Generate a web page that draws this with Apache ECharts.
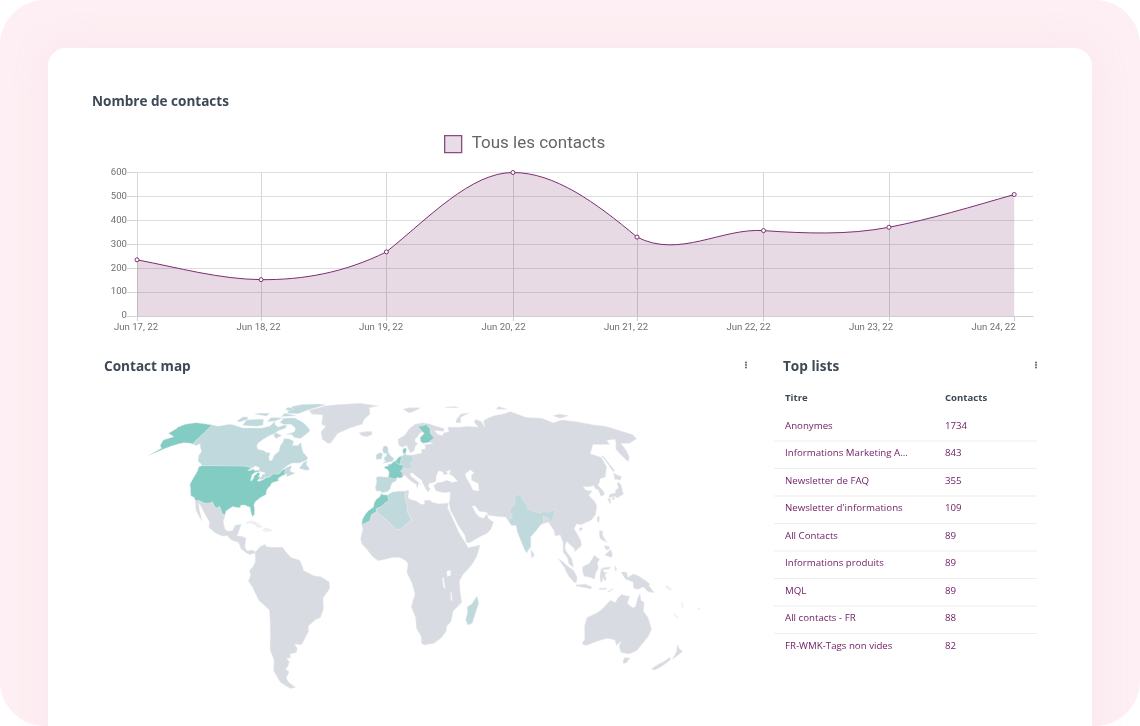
<!DOCTYPE html>
<html><head><meta charset="utf-8">
<script src="https://cdn.jsdelivr.net/npm/echarts@6/dist/echarts.min.js"></script>
<style>
html,body{margin:0;padding:0;background:#fff;width:1140px;height:726px;overflow:hidden}
#outer{position:absolute;left:0;top:0;width:1140px;height:726px;background:#fdeff3;border-radius:45px}
#card{position:absolute;left:48px;top:48px;width:1044px;height:720px;background:#fff;border-radius:18px;box-shadow:0 0 40px rgba(240,170,195,.12)}
#chart{position:absolute;left:0;top:0;width:1140px;height:726px}
</style></head><body>
<div id="outer"></div><div id="card"></div><div id="chart"></div>
<script>
const dates = ['Jun 17, 22','Jun 18, 22','Jun 19, 22','Jun 20, 22','Jun 21, 22','Jun 22, 22','Jun 23, 22','Jun 24, 22'];
const dayIndex = [0,0.99,1.99,3,3.99,5,6,7];
const contacts = [235,152,268,600,330,357,371,508];
/* curve slope read at each point, contacts per day, arriving and leaving */
const slopeIn = [-100,-5,260,0,-440,-35,100,150];
const slopeOut = [-100,-5,420,0,-270,-35,100,150];
const yTicks = [0,100,200,300,400,500,600];
const listTitles = ['Anonymes','Informations Marketing A…','Newsletter de FAQ',"Newsletter d'informations",'All Contacts','Informations produits','MQL','All contacts - FR','FR-WMK-Tags non vides'];
const listCounts = [1734,843,355,109,89,89,89,88,82];
const tableHead = ['Titre','Contacts'];
const highContacts = ['USA','Alaska','France','Benelux','Denmark','Finland','Morocco'];
const lowContacts = ['Canada','Baffin','Victoria','Banks','Ellesmere','Devon','Melville','Axel','Somerset','Southampton','Newfoundland','Spain','Germany','UK','Ireland','Algeria','India','Madagascar'];
const lakes = ['Caspian','Victoria Lake','Tanganyika','Malawi'];
const faint = ['Cuba','Hispaniola','Solomon','New Caledonia','Fiji','Vanuatu'];

/* country outlines, lon/lat */
const shapes = {
 'Eurasia':[[-9,37],[-9.5,38.7],[-8.8,41],[-9.2,43.2],[-8,43.7],[-2,43.4],[-1.3,44.5],[-1.2,46],[-2.5,47.3],[-4.7,48],[-3,48.8],[-1.5,48.7],[-1.7,49.7],[0,49.5],[1.6,50.8],[3.5,51.4],[5,53],[7,53.6],[8.8,54],[8.2,55.5],[8.2,57],[10.5,57.7],[10.5,56.2],[9.8,55],[11,54],[14,54],[18.5,54.7],[21,55],[21,57],[23.5,57],[24.3,58.3],[23.5,59.2],[28,59.6],[30,60],[27,60.5],[23,60],[21.3,61],[21.5,63],[25,65],[24,65.8],[22,65.5],[21,64.5],[17.5,62],[17.2,60.7],[19,59.8],[16.7,58],[16.3,56.5],[14.3,55.5],[13,55.4],[11,59],[8,58],[5.5,59],[5,62],[10,64],[14,67.5],[19,70],[25,71],[31,70.2],[33,69.5],[41,67.7],[40,66.2],[35,66.5],[33,66.7],[35,64.5],[38,64],[40,65.5],[44,66],[44,68.5],[54,68.5],[60,69],[68,68.5],[67,71.5],[70,73],[73,71.5],[73,68],[75,72],[80,73.5],[87,75],[98,76.3],[105,77.7],[113,74],[125,73.5],[130,71],[140,72.5],[150,71.5],[160,69.7],[168,69],[176,66],[180,64.5],[179,62.3],[170,60],[163.5,59.8],[163,58],[162,56],[160,53],[156.5,50.8],[155.7,54],[156,57],[161,60.5],[163,62],[156,61.5],[155,59.3],[143,59.3],[135.5,54.7],[141,53],[140,48.5],[135,43.5],[131,42.7],[129.5,41],[127.5,39.8],[129.4,37],[129,35.2],[126.5,34.5],[126.5,37.5],[125,38],[125,39.5],[121.5,39],[118,39],[119,37.3],[122.5,37],[119.5,35],[121.7,32],[122,30],[120,26],[117,23.5],[113.5,22.3],[110.5,21.2],[108,21.7],[106,19.5],[109,14],[109,11.5],[105,8.7],[105,10],[102.5,12],[100.8,13.5],[99.5,11],[100,9],[103,5.5],[104,1.4],[101.5,2.8],[100.5,6],[98.3,8.5],[98.7,13],[97.5,16.5],[94.5,16],[94.2,18.5],[91.5,22.5],[90,22],[87,21.3],[85,19.5],[80.3,15.5],[80,11],[78,9],[77.5,8],[76,10.5],[73,18],[72.7,21],[70,21],[69,22.3],[67,24.8],[62,25.1],[57,25.7],[56.5,27],[52,27.5],[50,30],[48,30],[50,26.5],[51.5,25],[54,24.2],[56.2,26.2],[57,24],[59.7,22.5],[57.7,19],[55,17],[52,16],[45,12.8],[43.3,13],[42.5,16.5],[39,21],[36.8,25],[35,28],[34.6,31.3],[35.5,33.5],[36,36.5],[32,36.2],[30,36.5],[27.5,37],[26.3,39.5],[29,41],[31.5,41.2],[35,42],[38,41],[41.5,41.5],[39,44],[37,45],[38.5,47],[35,46],[36.5,45.2],[33.5,44.5],[33,46],[30.5,46.5],[28.5,44],[28,41.5],[26,40.8],[23.5,40.5],[23,39],[24,38],[22.8,36.5],[21.5,37.5],[19.5,41],[19.3,42],[15,44.5],[13.7,45.5],[12.3,45.4],[12.5,44],[16,41.8],[18.4,40],[17,40.5],[16,38],[15.7,40],[12.5,41.5],[10.5,43],[8.8,44.4],[6,43.1],[3.5,43.3],[3.2,41.8],[0.5,40.7],[-0.3,39],[-0.5,38],[-2,36.8],[-5.3,36.1],[-6.5,37]],
 'Africa':[[8.6,36.9],[10,37.3],[11,37],[10.2,34.3],[11,33.2],[15,32.3],[18,30.7],[20,31],[20,32.7],[23,32.6],[25,31.6],[29,30.9],[32,31.2],[34.2,31.3],[33.4,29],[34.6,27],[36,24],[37.6,21],[39,18],[41,15],[43.3,12],[44,10.5],[51,11.8],[49,6.5],[46,2.5],[41,-2],[39,-5],[39.5,-10],[40.7,-15],[36,-19],[35,-24],[32.8,-26],[32.5,-28.5],[30,-31.5],[26,-34],[20,-34.8],[18.3,-34],[18,-31],[15,-27],[14.3,-22],[11.7,-17],[13.7,-11],[12,-6],[9,-1],[9.7,3],[8.5,4.5],[5,6],[1,6],[-4,5],[-7.5,4.4],[-11,6.8],[-13.5,9.5],[-16.7,12.3],[-17.5,14.7],[-16.3,19],[-17,21.2],[-13,23],[-12,26],[-8.7,27.3],[-4.8,25],[1.2,20.7],[3.3,19],[5.8,19.4],[12,23.5],[9.8,27],[9.5,30.2],[8.3,34.5]],
 'Greenland':[[-73,78.3],[-68,76],[-58,75.5],[-55,70],[-51,69],[-53,66],[-50,62],[-45,60],[-43,60],[-40,65],[-32,68],[-23,70],[-22,73],[-18,76],[-20,80],[-12,81.5],[-30,83.6],[-50,82.5],[-62,81.5],[-68,79.5]],
 'Iceland':[[-24,65.5],[-22,64],[-18,63.4],[-14,64.5],[-15,66.3],[-20,66]],
 'Mexico':[[-117.1,32.5],[-114.8,32.5],[-111,31.3],[-108.2,31.3],[-106.5,31.8],[-104.5,29.7],[-103,29],[-101.5,29.8],[-100.5,28.5],[-99.2,26.4],[-97.2,25.9],[-97.7,22.5],[-96,19],[-94,18.2],[-91.5,18.5],[-90.5,21],[-87,21.5],[-88,18],[-88.7,16],[-86,15.9],[-83.3,15],[-83.7,11],[-82.3,9],[-79.5,9.5],[-77.3,8.7],[-77.5,7.3],[-78.3,8],[-80.5,7.3],[-83,8.3],[-85.7,10],[-87.5,13],[-91.5,14],[-94.5,16.2],[-97,15.9],[-101.5,17.5],[-105.5,20],[-105.7,22.5],[-109,26],[-112.7,30],[-114.7,31.5],[-113,28],[-110,23],[-112,24.8],[-115,28]],
 'South America':[[-77.5,7.3],[-77.3,8.7],[-75,11],[-72,12.2],[-71.3,11],[-68,10.7],[-62,10.7],[-60,8.5],[-57,6],[-52,4.7],[-50,1],[-50,0],[-44,-2.5],[-40,-3],[-35.2,-5.5],[-35,-8.5],[-39,-13],[-39,-18],[-41,-22],[-44,-23],[-48.5,-26],[-48.7,-28.5],[-52,-32.5],[-54,-34.7],[-58,-34.3],[-57,-36.5],[-58,-38.3],[-62,-39],[-62.2,-40.8],[-65,-41],[-63.7,-42.5],[-65.5,-45],[-67.5,-46],[-65.8,-47.5],[-69,-50.5],[-68.3,-52.5],[-65,-55],[-69,-55.5],[-74,-52.5],[-75.5,-47],[-73,-42],[-73.7,-37],[-71.5,-30],[-70.5,-23],[-70.3,-18.5],[-76,-14],[-79,-8],[-81.3,-5],[-80,-2.5],[-80.5,0],[-78.8,1.5],[-77.3,4]],
 'Australia':[[114,-22],[113.5,-26],[115.7,-32],[115,-34.3],[118,-35],[124,-33],[129,-31.7],[134,-32.5],[136,-35],[138,-33],[138,-35.5],[141,-38.3],[146.3,-39],[150,-37.5],[153,-31],[153.5,-27.5],[149.5,-22],[146,-19],[145.5,-15],[143.5,-14],[142.5,-10.8],[141.5,-13],[141,-17],[139.5,-17.5],[136,-15.5],[136.8,-12.2],[132,-11.3],[130,-13],[129,-15],[126,-14],[122,-18],[119,-20]],
 'Tasmania':[[144.7,-40.7],[148.3,-40.9],[148,-43],[146.5,-43.6],[145.3,-42.5]],
 'NZ North':[[172.7,-34.5],[175.5,-36.7],[178.3,-37.7],[177,-39.5],[175.3,-41.6],[174.8,-39.8],[174.7,-38]],
 'NZ South':[[172.7,-40.6],[174.3,-41.7],[172.8,-43.7],[171,-45.5],[169,-46.7],[166.5,-46],[168.5,-44],[171,-42.5]],
 'Honshu':[[130.9,34],[132.5,35.5],[136,36],[137,37.3],[139.5,38.5],[140,40.5],[141.4,41.3],[142,39.5],[141,37],[140.7,35.5],[138.5,34.7],[136,33.7],[135,34.5],[132.5,34]],
 'Kyushu':[[130,33.5],[131.7,33.5],[131,31.3],[130.3,31.3]],
 'Shikoku':[[132.5,33.5],[134.5,34.2],[134.2,33.3],[133,32.8]],
 'Hokkaido':[[140,42],[141.5,45.4],[145.3,43.5],[143,42],[141,42.5]],
 'Sakhalin':[[142,46],[143.5,46.5],[143,50],[143,54],[142,53.5],[142,50]],
 'Taiwan':[[121,25.2],[122,25],[120.8,22],[120.1,23.2]],
 'Hainan':[[108.7,19.2],[110.5,20.1],[111,19.5],[109.5,18.2]],
 'Sri Lanka':[[80,9.7],[81.8,7.5],[81,6],[80,6.2]],
 'Luzon':[[120.5,18.5],[122.2,18.4],[122,16],[124,13],[122,13.8],[120.5,14.5],[120,16]],
 'Mindanao':[[122,7],[125.5,9.7],[126.5,7.5],[125.5,5.8],[124,6.5]],
 'Visayas':[[122,11.5],[123,11.5],[125,11],[125,10],[123,9.5]],
 'Sumatra':[[95.3,5.5],[98,4],[100,2.3],[103.8,0],[106,-3],[105.8,-5.8],[104.5,-5.7],[101,-2.5],[98.5,1.5]],
 'Java':[[105.2,-6.8],[108.5,-6.6],[111,-6.5],[114.5,-7.7],[114.5,-8.7],[110,-8],[106,-7.4]],
 'Borneo':[[109,1.5],[111.5,2.7],[113,3.2],[116,7],[119,5],[117.7,3.7],[118,1],[116.5,-1.5],[116,-4],[113,-3.2],[110,-2.8],[109,-0.5]],
 'Sulawesi':[[119.5,0.5],[121,1.3],[125,1.5],[124,0.4],[120.5,0.5],[121.5,-1],[123.3,-0.9],[121.8,-2],[122.8,-4.5],[121.5,-4.7],[120.8,-3],[120.4,-5.5],[119.5,-5.5],[119,-3]],
 'New Guinea':[[131,-0.8],[134,-0.8],[135,-3.3],[138,-1.7],[141,-2.6],[145.5,-5],[147.8,-6.5],[147,-7],[150.7,-10.5],[147,-10],[144,-7.7],[141,-9],[138.5,-8.3],[138,-5.5],[133.5,-4],[132.5,-2.8]],
 'Flores':[[119,-8.4],[123,-8.3],[123,-8.8],[119,-8.9]],
 'Timor':[[124,-9.9],[127,-8.4],[126.5,-9],[124.5,-10.2]],
 'Halmahera':[[127.5,2],[128.5,1],[128,-0.7],[127.5,0.5]],
 'Svalbard':[[11,79],[16,80],[27,80],[21,78],[16,76.7],[14,77.5]],
 'Novaya Zemlya':[[52,71],[56,71],[58,74],[68,76.8],[60,76],[54,73]],
 'Severnaya':[[95,79],[105,79],[100,81]],
 'Franz Josef':[[50,80.5],[60,81],[62,80],[50,80]],
 'New Siberian':[[137,75],[145,76],[150,75],[140,73.5]],
 'Solomon':[[157,-7],[160,-8.5],[160,-9.5],[157,-8]],
 'New Caledonia':[[164,-20],[167,-22],[166.5,-22.3],[164,-20.5]],
 'Fiji':[[177.3,-17.5],[178.6,-17.7],[178.4,-18.2],[177.3,-18.2]],
 'Vanuatu':[[167,-15],[168,-16],[168.5,-17.5],[167.5,-16.5]],
 'Cuba':[[-84.9,21.9],[-82,23.1],[-79,22.5],[-74.2,20.2],[-77.5,19.9],[-78.5,21],[-82,22.2]],
 'Hispaniola':[[-74.4,18.5],[-72.8,19.9],[-68.5,18.6],[-71,18],[-72.5,18.1]],
 'USA':[[-124.7,48.4],[-123,49],[-95.2,49],[-94.6,48.7],[-92,48.3],[-89.6,48],[-92,46.7],[-90.5,46.6],[-88.4,47.3],[-87.5,46.5],[-85,46.7],[-84.4,46.5],[-84,46],[-85,46],[-86.5,45.8],[-87.6,45.1],[-88,44.5],[-87.5,44.5],[-87.8,42.5],[-87.5,41.7],[-86.8,41.8],[-86.3,43],[-86.5,44],[-85.5,45],[-84.8,45.8],[-83.5,45.3],[-83.4,44.3],[-83.9,43.7],[-82.9,44],[-82.5,43],[-83.1,42.2],[-83.4,41.7],[-82,41.5],[-80,42.2],[-79,42.8],[-79,43.3],[-76.5,43.5],[-76.2,44],[-75,45],[-71.5,45],[-70.5,45.8],[-70,46.7],[-69,47.4],[-68,47.3],[-67.8,45.7],[-67,44.9],[-69,44],[-70.5,43.2],[-70.8,42.5],[-70,41.8],[-71.3,41.5],[-74,40.7],[-74.2,39.6],[-75.2,38.5],[-75.9,37.2],[-76,36.8],[-75.5,35.3],[-77,34.6],[-78.8,33.7],[-81,32],[-81.4,30.5],[-80.5,28.3],[-80.1,26],[-81,25.1],[-81.8,26],[-82.8,28],[-83.5,29.5],[-85,29.7],[-86.5,30.4],[-89.2,30.3],[-89.2,29.2],[-91,29.3],[-93.8,29.7],[-95.5,28.7],[-97.2,27.6],[-97.2,25.9],[-99.2,26.4],[-100.5,28.5],[-101.5,29.8],[-103,29],[-104.5,29.7],[-106.5,31.8],[-108.2,31.3],[-111,31.3],[-114.8,32.5],[-117.1,32.5],[-118.5,34],[-120.6,34.6],[-121.9,36.6],[-122.5,37.8],[-123.8,39.5],[-124.3,40.4],[-124.2,43],[-124,46.2]],
 'Canada':[[-141,69.6],[-135,69],[-128,70],[-124,69.6],[-115,68],[-108,68],[-100,68],[-95,69],[-94,71.8],[-92,70],[-88,68.5],[-85,69.5],[-82,69.5],[-81.5,68],[-86,66.5],[-87,65],[-90,64],[-93,62],[-94.8,60],[-94.5,58.7],[-92.5,57],[-88,56.3],[-85,55.3],[-82.5,55.2],[-82,53],[-80.5,51.3],[-79,51.5],[-79,54],[-77,56],[-78,58.7],[-77.5,60.5],[-78,62.4],[-74,62.2],[-70,61],[-69.5,58.8],[-66,58.8],[-64.5,60.3],[-62,57.5],[-60,55.3],[-56,53],[-55.8,51.8],[-60,50.2],[-65,50.2],[-67,49.3],[-70,47],[-65,49],[-64.5,47.5],[-65,47],[-64,46],[-61,45.5],[-64,44.2],[-66,43.7],[-66,45],[-67,44.9],[-67.8,45.7],[-68,47.3],[-69,47.4],[-70,46.7],[-70.5,45.8],[-71.5,45],[-75,45],[-76.2,44],[-76.5,43.5],[-79.5,43.5],[-79,42.8],[-80,42.6],[-82.5,42.2],[-82.5,43],[-81.7,43.5],[-81.3,45],[-80,44.6],[-80.5,45.7],[-84,46.2],[-84.8,46.8],[-85,47.9],[-88,48.8],[-89.6,48],[-92,48.3],[-94.6,48.7],[-95.2,49],[-123,49],[-124.7,50],[-127.5,51],[-130,54],[-130,55.9],[-133.5,58],[-135.5,59.7],[-137.5,58.9],[-139.6,59.3],[-141,60]],
 'Alaska':[[-141,69.6],[-141,60],[-139.6,59.3],[-143,60],[-148,60.3],[-151,59.6],[-154,58.7],[-158,57],[-164,53.8],[-160,57.5],[-163,59],[-165,61.7],[-160,63.3],[-167,65.2],[-165.5,67.8],[-166,68.5],[-163,70],[-156.5,71],[-150,70.5]],
 'Baffin':[[-80,73.7],[-72,71.5],[-68,70],[-62,67],[-62,66],[-66,62.5],[-71,63],[-74,64.5],[-78,64.5],[-73,66],[-74,68],[-79,70],[-85,70],[-89,71],[-89,73.5],[-85,73.7]],
 'Victoria':[[-117,69.5],[-105,69],[-101,69.7],[-105,73],[-110,73],[-118,72.5]],
 'Banks':[[-125,72],[-122,71.3],[-118,73],[-120,74.3],[-124,74.3]],
 'Ellesmere':[[-90,76.5],[-80,76.3],[-75,78.5],[-68,80.5],[-62,82.3],[-70,83],[-85,82.5],[-92,81]],
 'Devon':[[-92,76.5],[-80,75],[-80,74.5],[-92,74.5]],
 'Melville':[[-117,76],[-105,74.8],[-105,76.5],[-115,76.5]],
 'Axel':[[-95,80.5],[-87,79],[-90,78],[-95,79]],
 'Somerset':[[-100,73.8],[-90,73.8],[-94,72],[-100,71.5]],
 'Southampton':[[-87,65.5],[-81,64],[-84,62.5],[-87,64]],
 'Newfoundland':[[-59.3,47.7],[-55.5,46.9],[-53,46.7],[-52.8,47.7],[-55.5,49.5],[-55.5,51.5],[-57.5,50.5]],
 'UK':[[-5.5,50],[1.3,51.2],[1.7,52.7],[0,53.5],[-1.5,55],[-2,56],[-2,57.6],[-3.2,58.6],[-5,58.6],[-6,56.8],[-5,55],[-3,54.8],[-3,53.5],[-4.5,53.2],[-4.3,52.3],[-5,51.7],[-3.2,51.4]],
 'Ireland':[[-10,52],[-6.3,52.2],[-6,53.5],[-5.7,54.7],[-7.5,55.3],[-10,54.2]],
 'Spain':[[-9,37],[-9.5,38.7],[-8.8,41],[-9.2,43.2],[-8,43.7],[-1.7,43.4],[3.2,42.5],[3.2,41.8],[0.5,40.7],[-0.3,39],[-0.5,38],[-2,36.8],[-5.3,36.1],[-6.5,37]],
 'France':[[-1.7,43.4],[3.2,42.5],[3.5,43.3],[6,43.1],[7.5,43.8],[7,45.8],[6,46.3],[7.6,47.6],[8.2,49],[6,49.5],[4.2,50],[2.5,51],[1.6,50.8],[0,49.5],[-1.7,49.7],[-1.5,48.7],[-3,48.8],[-4.7,48],[-2.5,47.3],[-1.2,46],[-1.3,44.5]],
 'Germany':[[6,49.5],[6,50.8],[6.8,52.2],[7,53.6],[8.8,54],[8.7,54.9],[11,54],[14,54],[14.7,52],[15,51],[12.2,50.3],[13.7,48.6],[13,47.5],[7.6,47.6],[8.2,49]],
 'Benelux':[[2.5,51],[3.5,51.4],[5,53],[7,53.4],[6.8,52.2],[6,50.8],[6,49.5],[4.2,50]],
 'Denmark':[[8.7,54.9],[8.2,55.5],[8.2,57],[10.5,57.7],[10.5,56.2],[9.8,55]],
 'Finland':[[23,60],[27,60.5],[30,62],[31.5,62.8],[29.5,65],[30,67.7],[28.5,69],[28.5,70],[25.5,69.2],[21,69],[24,66],[25,65],[21.5,63],[21.3,61]],
 'Algeria':[[-2.2,35.1],[1,36.5],[5,36.9],[8.6,36.9],[8.3,34.5],[9.5,30.2],[9.8,27],[12,23.5],[5.8,19.4],[3.3,19],[1.2,20.7],[-4.8,25],[-8.7,27.3],[-8.7,28.7],[-5.5,29.8],[-3.6,31.4],[-1.2,32.5]],
 'Morocco':[[-5.9,35.8],[-5,35.2],[-2.2,35.1],[-1.2,32.5],[-3.6,31.4],[-5.5,29.8],[-8.7,28.7],[-8.7,27.3],[-11.5,26],[-12.5,23],[-17,21.2],[-16.7,23.7],[-15,26.2],[-13.3,27.8],[-10.3,29.5],[-10,31.5],[-8.5,33.3],[-6.8,34.2]],
 'India':[[68.5,23.7],[71,24.5],[70,28],[74,31],[74.5,34.5],[78,35.5],[79,32.5],[81,30],[80.5,28.5],[88,26.4],[88.5,27.5],[92,27],[97,28.3],[95,25],[93,22],[92,24.5],[89,25.3],[88.5,22],[87,21.3],[85,19.5],[80.3,15.5],[80,11],[78,9],[77.5,8],[76,10.5],[73,18],[72.7,21],[70,21],[69,22.3]],
 'Madagascar':[[49.3,-12],[50.5,-15.5],[49.5,-18],[47.5,-24.7],[45,-25.5],[43.5,-23],[44.3,-20],[44,-17],[46.5,-15.7]],
 'Caspian':[[47,45],[51,47],[53,45.5],[51,44.5],[50.3,42],[54,40.5],[53.7,37],[50,37.3],[49,40],[47.5,42.8]],
 'Victoria Lake':[[31.7,-0.5],[34,0],[34,-2.5],[32,-2.8]],
 'Tanganyika':[[29.2,-3.5],[30,-3.5],[31,-8.5],[30,-8]],
 'Malawi':[[34,-10],[34.6,-10.5],[35.2,-14],[34.5,-14.2]]
};

/* Robinson projection table */
const PLEN=[1,.9986,.9954,.99,.9822,.973,.96,.9427,.9216,.8962,.8679,.835,.7986,.7597,.7186,.6732,.6213,.5722,.5322];
const PDFE=[0,.062,.124,.186,.248,.31,.372,.434,.4958,.5571,.6176,.6769,.7346,.7903,.8435,.8936,.9394,.9761,1];
function lookup(t,a){const v=Math.min(Math.abs(a)/5,17.999),i=Math.floor(v),f=v-i;return t[i]+(t[i+1]-t[i])*f;}
const MAP_CX=391,MAP_CY=570.3,MAP_KX=1.757,MAP_KY=173;
const projection={
 project(p){const s=p[1]<0?-1:1;return [MAP_CX+MAP_KX*p[0]*lookup(PLEN,p[1]),MAP_CY-s*MAP_KY*lookup(PDFE,p[1])];},
 unproject(q){return [0,0];}
};

const geoJson={type:'FeatureCollection',features:Object.keys(shapes).map(n=>{
  const ring=shapes[n].concat([shapes[n][0]]);
  return {type:'Feature',properties:{name:n},geometry:{type:'Polygon',coordinates:[ring]}};
})};
echarts.registerMap('world',geoJson);
let x0=1e9,y0=1e9,x1=-1e9,y1=-1e9;
Object.values(shapes).forEach(r=>r.forEach(c=>{const q=projection.project(c);x0=Math.min(x0,q[0]);x1=Math.max(x1,q[0]);y0=Math.min(y0,q[1]);y1=Math.max(y1,q[1]);}));

const mapData=Object.keys(shapes).map(n=>({name:n,value:highContacts.includes(n)?2:lowContacts.includes(n)?1:lakes.includes(n)?3:faint.includes(n)?4:0}));

const PURPLE='#7b2d71',TEXT='#3e4956',ROW='#6d1b62';
const graphics=[];
const txt=(t,x,y,size,weight,color)=>graphics.push({type:'text',x,y,silent:true,style:{text:t,fontFamily:'"Open Sans"',fontSize:size,fontWeight:weight,fill:color,verticalAlign:'middle'}});
txt('Nombre de contacts',92,102,13.55,700,TEXT);
txt('Contact map',104,367,13.6,700,TEXT);
txt('Top lists',783,367,13.6,700,TEXT);
txt(tableHead[0],785,398.5,9.6,700,TEXT);
txt(tableHead[1],945,398.5,9.6,700,TEXT);
const ROW_Y=426,ROW_H=27.5;
listTitles.forEach((t,i)=>{
  const y=ROW_Y+i*ROW_H;
  txt(t,785,y,9.7,400,ROW);
  txt(String(listCounts[i]),945,y,9.7,400,ROW);
  if(i<listTitles.length-1) graphics.push({type:'rect',silent:true,shape:{x:774,y:y+14.5,width:263,height:1},style:{fill:'#eeeeef'}});
});
[746,1036].forEach(x=>[362.5,365,367.5].forEach(y=>graphics.push({type:'circle',silent:true,shape:{cx:x,cy:y,r:.9},style:{fill:'#4a5562'}})));

/* Bezier path through the contact points, with the slopes; everything passes through the axis scales */
function curvePath(api){
  const pts=contacts.map((v,i)=>api.coord([dayIndex[i],v]));
  let d='M'+pts[0].join(' ');
  for(let i=1;i<contacts.length;i++){
    const dx=dayIndex[i]-dayIndex[i-1];
    const c1=api.coord([dayIndex[i-1]+dx/3,contacts[i-1]+slopeOut[i-1]*dx/3]);
    const c2=api.coord([dayIndex[i]-dx/3,contacts[i]-slopeIn[i]*dx/3]);
    d+=' C'+c1.join(' ')+' '+c2.join(' ')+' '+pts[i].join(' ');
  }
  return {d,pts};
}

const chart=echarts.init(document.getElementById('chart'),null,{renderer:'canvas'});
chart.setOption({
  animation:false,
  backgroundColor:'transparent',
  legend:{data:[{name:'Tous les contacts',icon:'rect',itemStyle:{color:'#e8dde7',borderColor:'#8a4a80',borderWidth:1.3,opacity:1}}],left:444,top:135,itemWidth:17,itemHeight:17,padding:0,selectedMode:false,
    textStyle:{fontFamily:'Roboto',fontSize:17,color:'#666666',padding:[6,0,0,5]}},
  grid:[{left:137,top:172.5,width:896,height:143.5},{left:136,top:172.5,width:857.5,height:143.5}],
  xAxis:[
   {type:'value',gridIndex:0,min:0,max:7.15,interval:1,
    axisLine:{show:true,lineStyle:{color:'#cfcfcf'}},
    axisTick:{show:true,length:5,customValues:dayIndex,lineStyle:{color:'#cfcfcf'}},
    axisLabel:{show:false},
    splitLine:{show:true,showMaxLine:false,lineStyle:{color:'#d6d6d8',width:1}}},
   {type:'category',gridIndex:1,data:dates,boundaryGap:false,axisLine:{show:false},axisTick:{show:false},splitLine:{show:false},
    axisLabel:{show:true,interval:0,margin:7,fontFamily:'Roboto',fontSize:9.6,color:'#707070',hideOverlap:false}}
  ],
  yAxis:[
   {type:'value',gridIndex:0,min:0,max:600,interval:100,
    axisLine:{show:true,lineStyle:{color:'#d6d6d8'}},axisTick:{show:true,length:10,lineStyle:{color:'#d6d6d8'}},
    axisLabel:{margin:10,padding:[0,0,3,0],fontFamily:'Roboto',fontSize:9.6,color:'#707070',formatter:v=>yTicks.includes(v)?String(v):''},
    splitLine:{show:true,lineStyle:{color:'#dedee0',width:1}}},
   {type:'value',gridIndex:1,show:false,min:0,max:600}
  ],
  visualMap:{show:false,type:'piecewise',seriesIndex:1,pieces:[{value:0,color:'#d9dbe3'},{value:1,color:'#bfd9dc'},{value:2,color:'#82ccc4'},{value:3,color:'#ffffff'},{value:4,color:'#eff0f4'}]},
  series:[
   {name:'Tous les contacts',type:'line',xAxisIndex:0,yAxisIndex:0,z:4,
    data:contacts.map((v,i)=>[dayIndex[i],v]),
    symbol:'circle',symbolSize:4,showSymbol:true,
    lineStyle:{opacity:0,width:0},
    itemStyle:{color:'#ffffff',borderColor:PURPLE,borderWidth:1}},
   {type:'map',map:'world',projection,roam:false,silent:true,aspectScale:1,showLegendSymbol:false,
    left:x0,top:y0,width:x1-x0,height:y1-y0,
    data:mapData,label:{show:false},
    itemStyle:{borderColor:'#e8eaee',borderWidth:.4,areaColor:'#d9dbe3'},
    emphasis:{disabled:true},select:{disabled:true}},
   {name:'courbe',type:'custom',xAxisIndex:0,yAxisIndex:0,z:3,silent:true,clip:false,
    data:contacts.map((v,i)=>[dayIndex[i],v]),
    renderItem(params,api){
      if(params.dataIndex!==0) return null;
      const {d,pts}=curvePath(api);
      const base=api.coord([0,0])[1];
      const area=d+' L'+pts[pts.length-1][0]+' '+base+' L'+pts[0][0]+' '+base+' Z';
      return {type:'group',children:[
        {type:'path',shape:{pathData:area},style:{fill:'rgba(107,26,95,0.16)',stroke:null}},
        {type:'path',shape:{pathData:d},style:{fill:null,stroke:PURPLE,lineWidth:1}}
      ]};
    }}
  ],
  graphic:graphics
});
</script></body></html>
